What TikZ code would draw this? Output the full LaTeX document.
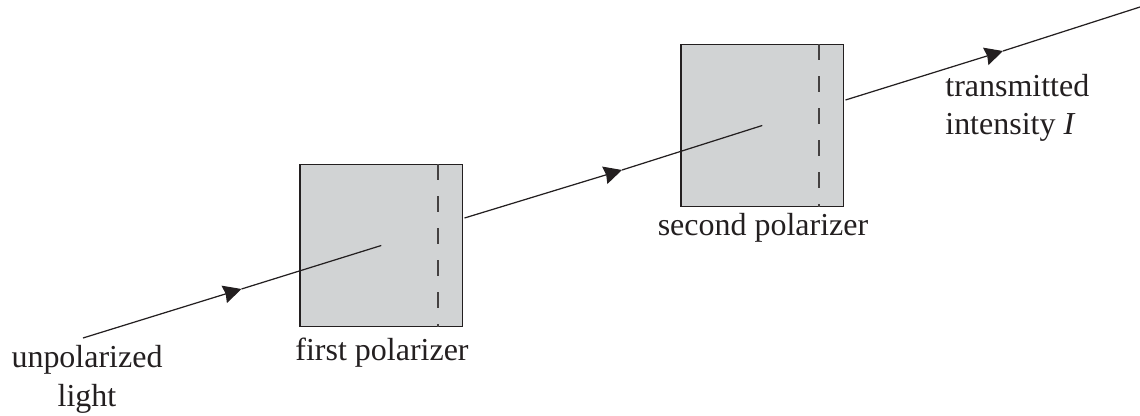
\documentclass[tikz,border=0pt]{standalone}
\usepackage{fontspec}
\setmainfont{Liberation Serif}
\usetikzlibrary{arrows.meta}
\definecolor{polargray}{HTML}{D1D3D4}
\definecolor{inkblack}{HTML}{231F20}
\tikzstyle{polarizer} = [draw=inkblack,fill=polargray,line width=0.7pt,
                         minimum size=3.25cm,inner sep=0pt]
\tikzstyle{ray} = [draw=inkblack,line width=0.7pt]
\tikzstyle{rayarrow} = [ray,-{Stealth[length=0.36cm,width=0.36cm,inset=0.03cm]}]
\tikzstyle{axis} = [draw=inkblack!85,line width=0.7pt,dash pattern=on 0.31cm off 0.33cm]
\tikzstyle{label} = [text=inkblack,align=center,inner sep=0pt,
                     font=\fontsize{18.2}{21.8}\selectfont]

\begin{document}
\begin{tikzpicture}
  \useasboundingbox (0,0) rectangle (22.8,8.3);

  \node[polarizer] at (7.625,3.39) (first)  {};
  \node[polarizer] at (15.245,5.79) (second) {};

  \coordinate (firsttop) at (8.76,5.02);
  \coordinate (firstbot) at (8.76,1.76);
  \coordinate (secondtop) at (16.38,7.42);
  \coordinate (secondbot) at (16.38,4.16);
  \draw[axis] (firsttop) -- (firstbot);
  \draw[axis] (secondtop) -- (secondbot);

  \coordinate (source) at (1.66,1.54);
  \coordinate (tipa) at (4.83,2.52);
  \coordinate (exita) at (9.29,3.94);
  \coordinate (tipb) at (12.44,4.90);
  \coordinate (exitb) at (16.91,6.30);
  \coordinate (tipc) at (20.06,7.28);
  \coordinate (far) at (22.8,8.16);

  \draw[rayarrow] (source) -- (tipa);
  \draw[ray] (tipa) -- (first.center);
  \draw[rayarrow] (exita) -- (tipb);
  \draw[ray] (tipb) -- (second.center);
  \draw[rayarrow] (exitb) -- (tipc);
  \draw[ray] (tipc) -- (far);

  \node[label] at (1.74,0.71) (unpol) {unpolarized\\light};
  \node[label] at (7.64,1.25) (firstlab) {first polarizer};
  \node[label] at (15.26,3.74) (secondlab) {second polarizer};
  \node[label,align=left,anchor=west] at (18.9,6.14) (trans) {transmitted\\intensity \textit{I}};
\end{tikzpicture}
\end{document}
